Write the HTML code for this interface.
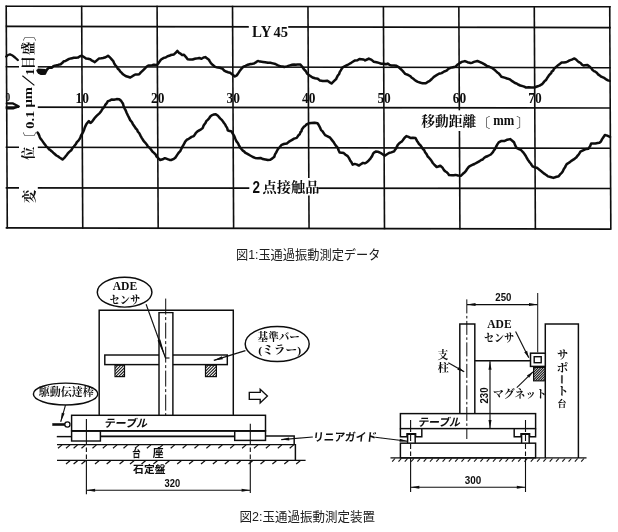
<!DOCTYPE html><html><head><meta charset="utf-8"><title>fig</title><style>html,body{margin:0;padding:0;background:#fff;}body{width:618px;height:532px;overflow:hidden;font-family:"Liberation Serif",serif;}svg{display:block;}.sb{font-family:"Liberation Serif",serif;font-weight:bold;}.nb{font-family:"Liberation Sans",sans-serif;font-weight:bold;}.kj{font-family:"Liberation Serif","Noto Serif CJK SC",serif;font-weight:bold;}.ns{font-family:"Liberation Sans","Noto Sans CJK JP",sans-serif;font-weight:bold;}.cap{font-family:"Liberation Sans","Noto Sans CJK JP",sans-serif;}</style></head><body><svg width="618" height="532" viewBox="0 0 618 532"><rect width="618" height="532" fill="#fff"/><filter id="bl" x="0" y="0" width="618" height="532" filterUnits="userSpaceOnUse"><feGaussianBlur stdDeviation="0.4"/></filter><g filter="url(#bl)"><path d="M5.40 5.60 L6.50 228.50 L8.10 228.50 L7.00 5.60 Z" fill="#0c0c0c"/><path d="M80.84 5.68 L81.94 228.65 L83.54 228.65 L82.44 5.67 Z" fill="#0c0c0c"/><path d="M156.28 5.75 L157.38 228.80 L158.98 228.80 L157.88 5.75 Z" fill="#0c0c0c"/><path d="M231.72 5.83 L232.82 228.95 L234.42 228.95 L233.32 5.82 Z" fill="#0c0c0c"/><path d="M307.16 5.90 L308.26 229.10 L309.86 229.10 L308.76 5.90 Z" fill="#0c0c0c"/><path d="M382.60 5.98 L383.70 229.25 L385.30 229.25 L384.20 5.97 Z" fill="#0c0c0c"/><path d="M458.04 6.05 L459.14 229.40 L460.74 229.40 L459.64 6.05 Z" fill="#0c0c0c"/><path d="M533.48 6.13 L534.58 229.55 L536.18 229.55 L535.08 6.12 Z" fill="#0c0c0c"/><path d="M608.92 6.20 L610.02 229.70 L611.62 229.70 L610.52 6.20 Z" fill="#0c0c0c"/><path d="M5.70 7.00 L610.80 7.60 L610.80 6.00 L5.70 5.40 Z" fill="#0c0c0c"/><path d="M5.70 27.20 L610.80 28.40 L610.80 26.80 L5.70 25.60 Z" fill="#0c0c0c"/><path d="M5.70 67.60 L610.80 68.50 L610.80 66.90 L5.70 66.00 Z" fill="#0c0c0c"/><path d="M5.70 107.90 L610.80 108.80 L610.80 107.20 L5.70 106.30 Z" fill="#0c0c0c"/><path d="M5.70 148.10 L610.80 149.10 L610.80 147.50 L5.70 146.50 Z" fill="#0c0c0c"/><path d="M5.70 188.70 L610.80 189.30 L610.80 187.70 L5.70 187.10 Z" fill="#0c0c0c"/><path d="M5.70 228.70 L610.80 229.90 L610.80 228.30 L5.70 227.10 Z" fill="#0c0c0c"/><rect x="19.00" y="30.00" width="18.80" height="182.00" fill="#fff"/><rect x="248.80" y="24.00" width="39.40" height="16.00" fill="#fff"/><rect x="249.30" y="178.00" width="69.00" height="17.50" fill="#fff"/><rect x="420.00" y="110.30" width="103.00" height="20.70" fill="#fff"/><path d="M6.2 56.6 L8.0 55.0 L10.0 54.4 L12.0 55.2 L15.0 57.5 L17.8 60.0" fill="none" stroke="#0a0a0a" stroke-width="2.3" stroke-linejoin="round" stroke-linecap="round"/><path d="M37.6 70.5 L38.9 72.7 L42.1 73.7 L45.0 73.4 L45.8 71.8 L46.8 69.9 L48.8 67.7 L52.0 67.7 L53.4 66.2 L55.0 65.6 L58.0 64.9 L60.7 64.2 L62.4 62.8 L63.9 61.2 L65.4 61.0 L66.9 60.1 L69.1 58.9 L72.0 58.2 L73.8 57.8 L76.1 57.7 L77.9 57.6 L80.0 56.3 L81.9 55.7 L83.9 57.1 L86.0 58.6 L88.1 58.7 L90.2 59.2 L91.5 60.4 L92.9 61.0 L94.8 62.1 L97.1 60.1 L99.1 58.4 L101.1 58.3 L103.0 58.0 L105.6 57.3 L108.0 55.8 L109.8 57.2 L112.1 59.9 L113.3 61.2 L114.2 63.3 L115.2 65.0 L116.6 66.5 L117.8 68.7 L119.1 69.8 L120.4 71.7 L121.5 72.7 L123.0 74.3 L125.5 76.0 L127.9 76.7 L130.3 77.5 L133.2 75.7 L135.3 74.5 L137.2 74.6 L139.2 74.3 L140.8 72.4 L143.0 70.3 L145.0 68.4 L146.7 66.5 L148.4 65.5 L150.2 65.5 L152.1 65.3 L154.0 64.7 L155.6 65.0 L157.3 64.7 L158.4 63.2 L159.4 61.7 L161.1 59.5 L163.8 57.9 L165.6 57.5 L167.6 56.2 L169.2 55.8 L170.9 55.0 L173.9 54.4 L176.0 52.5 L177.4 50.9 L178.9 52.8 L180.6 53.7 L182.1 54.9 L184.0 54.8 L186.0 57.1 L187.6 59.3 L190.2 59.4 L192.5 59.5 L194.9 58.7 L197.7 58.3 L199.5 58.0 L201.5 58.8 L203.6 57.5 L205.3 57.1 L206.9 58.2 L208.9 59.7 L209.8 61.4 L210.9 63.1 L212.9 65.1 L215.2 66.9 L217.9 67.6 L219.9 67.8 L222.6 68.7 L224.0 70.4 L225.3 71.2 L228.1 72.2 L230.1 72.8 L232.7 74.7 L234.9 76.4 L236.4 75.7 L237.7 74.1 L238.8 72.4 L239.5 71.3 L241.6 68.6 L243.4 66.7 L245.5 65.8 L247.9 64.7 L250.5 64.0 L252.1 63.9 L254.0 63.5 L256.2 62.1 L257.9 60.9 L260.0 61.6 L263.0 61.9 L265.3 62.2 L267.8 62.7 L270.3 62.8 L272.8 63.4 L275.4 64.0 L277.9 65.4 L279.4 66.0 L281.0 66.3 L282.6 66.4 L284.2 67.0 L286.8 66.4 L289.1 65.6 L292.1 64.8 L294.1 64.4 L295.9 64.7 L297.4 64.6 L300.4 64.6 L302.1 66.5 L303.8 69.1 L305.7 71.0 L306.5 72.5 L307.5 74.0 L310.0 75.8 L312.5 77.5 L315.1 78.3 L317.8 78.7 L320.0 80.6 L322.7 81.1 L324.9 81.0 L327.4 80.7 L329.3 82.1 L331.5 83.5 L332.9 82.2 L335.2 79.9 L336.2 79.0 L336.9 77.3 L337.9 75.4 L339.1 74.2 L339.7 72.1 L340.8 70.4 L341.6 69.0 L342.7 67.3 L345.0 66.2 L347.5 65.0 L350.0 63.5 L351.2 62.8 L352.8 61.8 L354.8 60.4 L357.5 60.3 L359.4 59.0 L361.5 59.2 L363.6 59.5 L365.1 60.4 L367.0 59.5 L368.8 58.6 L371.6 59.9 L373.8 61.7 L376.6 62.2 L378.8 62.9 L381.3 63.7 L384.0 63.8 L385.9 64.2 L387.7 63.6 L389.5 64.8 L391.4 65.6 L393.8 65.6 L396.5 65.8 L398.6 67.0 L400.3 68.7 L401.6 69.8 L402.9 71.1 L404.2 72.7 L405.2 73.9 L408.2 75.0 L410.5 76.3 L411.7 77.7 L413.0 78.5 L415.5 80.6 L417.9 81.9 L420.5 82.8 L422.5 83.2 L424.0 83.2 L425.8 83.2 L427.8 81.9 L429.8 80.8 L431.8 79.0 L433.9 76.8 L436.6 75.2 L438.9 73.8 L441.6 73.1 L444.2 71.5 L446.6 70.6 L448.4 68.9 L450.3 67.9 L453.0 67.2 L455.3 66.8 L457.3 64.8 L459.3 63.4 L461.8 61.9 L464.9 61.1 L467.5 62.2 L470.5 63.0 L472.3 62.7 L474.0 61.9 L477.4 61.0 L480.1 62.1 L482.4 63.2 L484.6 64.4 L486.8 65.9 L489.4 66.8 L492.1 67.9 L494.1 69.4 L496.2 71.4 L497.7 72.7 L498.9 73.6 L500.2 75.1 L501.4 76.8 L504.5 77.6 L507.1 78.5 L510.0 79.4 L512.6 81.4 L515.0 83.0 L516.6 83.5 L518.1 84.5 L520.3 85.5 L523.5 86.4 L526.1 87.5 L528.8 87.3 L531.5 87.5 L534.4 87.5 L537.1 86.5 L539.6 85.6 L542.1 84.2 L543.8 82.1 L544.7 81.0 L546.1 79.9 L547.0 78.3 L547.9 77.1 L548.9 75.4 L550.1 74.1 L551.1 73.3 L551.7 71.6 L553.1 70.7 L554.0 68.8 L555.9 67.1 L558.4 64.9 L559.8 63.9 L561.6 62.6 L563.6 62.4 L565.6 62.3 L567.4 61.6 L569.6 60.4 L571.8 59.6 L574.5 58.4 L575.9 59.4 L577.7 61.1 L579.0 62.2 L580.6 63.0 L582.0 64.7 L583.4 65.5 L585.0 65.2 L587.5 64.9 L589.4 66.4 L591.2 68.1 L592.5 69.9 L593.9 71.1 L595.3 71.7 L596.8 72.8 L598.1 74.4 L599.6 75.4 L600.9 76.5 L602.4 77.1 L604.2 77.9 L606.1 79.3 L608.0 80.4 L609.7 80.9" fill="none" stroke="#0a0a0a" stroke-width="2.5" stroke-linejoin="round" stroke-linecap="round"/><path d="M6.8 103.4 L13.0 103.4 L18.8 106.4 L13.0 108.4 L6.8 108.4" fill="none" stroke="#0a0a0a" stroke-width="2.3" stroke-linejoin="round" stroke-linecap="round"/><path d="M37.6 132.6 L38.7 134.3 L39.5 136.4 L40.4 138.5 L41.6 139.9 L42.8 141.6 L44.0 143.4 L45.1 144.7 L46.3 146.7 L47.7 147.5 L49.2 149.4 L50.2 149.9 L51.3 151.1 L52.6 152.1 L53.9 153.3 L56.4 155.5 L58.0 156.3 L59.5 157.5 L61.1 158.5 L62.5 159.5 L64.0 158.1 L65.0 157.1 L66.5 155.2 L67.6 153.7 L69.3 151.9 L71.2 150.3 L72.6 147.8 L73.8 146.6 L75.7 144.3 L77.0 141.9 L78.1 141.1 L79.3 139.4 L80.5 137.4 L81.0 135.5 L82.0 134.1 L83.2 131.9 L84.1 129.7 L84.8 127.6 L85.5 125.9 L86.4 124.1 L88.1 121.9 L88.9 121.1 L90.1 122.7 L90.7 123.0 L92.5 121.1 L94.5 118.3 L96.6 115.9 L98.0 114.6 L99.7 113.1 L101.3 110.9 L102.7 108.6 L104.2 107.2 L105.2 104.9 L106.6 103.4 L107.9 101.1 L109.6 100.6 L111.9 99.4 L114.0 99.7 L116.6 99.1 L119.2 99.2 L121.0 100.8 L122.1 102.4 L123.0 103.8 L123.6 106.2 L124.5 108.3 L125.4 109.8 L126.6 112.7 L127.9 115.5 L128.9 117.4 L130.2 120.1 L131.6 121.7 L132.9 124.2 L134.7 126.8 L135.8 128.5 L137.0 129.6 L137.9 131.7 L139.3 133.3 L140.6 135.9 L141.7 137.9 L142.9 139.7 L144.2 141.7 L145.7 143.2 L146.9 144.7 L147.9 146.6 L149.9 148.1 L151.3 150.0 L152.6 151.7 L153.7 152.6 L155.7 154.6 L156.5 156.6 L157.6 157.4 L158.6 158.6 L160.2 160.0 L162.6 159.3 L164.9 158.2 L168.2 159.4 L169.6 159.9 L171.2 160.0 L173.3 159.2 L175.3 157.8 L177.2 154.9 L178.7 152.7 L180.3 151.1 L181.4 148.7 L182.3 146.9 L183.5 144.8 L184.3 143.4 L185.2 141.6 L187.0 139.7 L188.8 138.8 L191.6 136.9 L193.8 136.1 L195.7 133.2 L197.5 131.4 L200.1 129.9 L202.8 128.0 L203.5 125.7 L204.3 124.5 L205.5 122.9 L206.3 121.2 L207.7 119.8 L209.1 118.3 L210.3 116.5 L211.6 115.4 L213.5 114.6 L215.8 114.3 L217.9 115.8 L220.1 118.4 L222.0 120.1 L224.0 123.0 L225.0 124.2 L226.1 126.4 L227.1 127.9 L227.8 130.3 L229.6 131.1 L231.3 131.2 L232.4 133.0 L233.7 135.1 L234.6 136.9 L235.4 138.9 L236.5 141.4 L238.0 143.2 L239.1 145.7 L240.2 147.6 L241.4 148.9 L242.7 150.6 L244.1 151.4 L245.1 152.6 L247.9 154.1 L250.2 155.5 L252.9 157.0 L255.1 157.9 L257.8 158.2 L260.5 157.9 L262.9 159.1 L265.4 159.5 L267.8 160.0 L270.3 159.8 L272.4 158.4 L274.3 156.8 L275.0 154.4 L276.1 152.6 L276.8 151.2 L277.9 149.1 L279.8 147.0 L281.7 144.8 L283.8 144.0 L286.8 143.4 L289.0 141.7 L291.7 140.1 L294.1 138.6 L296.7 137.9 L298.5 135.3 L299.7 134.3 L300.4 132.3 L301.4 131.4 L302.0 129.2 L303.7 126.9 L305.1 126.0 L306.4 124.5 L308.9 123.3 L311.3 122.9 L314.6 122.7 L317.5 123.2 L318.6 124.8 L319.4 126.3 L320.5 128.6 L321.1 130.1 L322.3 131.1 L323.3 132.5 L325.1 135.1 L327.6 136.3 L330.1 137.7 L332.0 140.1 L333.9 142.6 L335.6 145.3 L337.6 147.5 L338.7 150.5 L339.6 152.5 L341.8 152.7 L343.8 153.1 L345.6 154.7 L347.7 156.1 L349.0 158.1 L350.3 160.7 L351.5 162.3 L352.7 164.6 L354.7 163.9 L356.5 164.4 L357.7 164.9 L358.8 165.6 L360.8 164.3 L362.9 162.9 L364.7 163.3 L366.3 162.6 L368.5 160.7 L370.4 158.7 L371.3 157.1 L372.1 156.1 L372.9 154.1 L374.0 152.6 L375.7 151.6 L377.7 151.7 L379.7 152.5 L381.4 153.4 L383.1 154.6 L384.9 155.6 L387.0 154.3 L389.0 153.0 L391.3 152.4 L394.1 151.3 L395.1 149.7 L396.1 148.4 L396.8 146.9 L397.8 144.9 L399.1 143.5 L400.4 142.3 L401.6 141.7 L402.8 140.2 L404.6 137.7 L406.4 136.1 L408.5 136.9 L410.4 137.9 L412.8 137.8 L415.5 138.0 L417.0 140.9 L418.0 142.3 L419.0 144.0 L420.4 145.2 L421.6 147.0 L422.8 148.9 L424.1 149.9 L424.9 151.9 L426.1 153.5 L426.9 154.7 L427.7 156.5 L429.2 157.9 L430.5 159.6 L431.8 161.3 L432.8 163.0 L434.6 165.0 L436.7 167.0 L438.4 166.5 L440.3 165.7 L442.5 167.7 L444.1 170.3 L445.5 171.5 L446.8 172.3 L447.9 173.4 L449.0 175.0 L452.1 175.2 L453.5 175.2 L455.5 174.9 L458.1 175.5 L460.8 175.8 L462.9 173.8 L464.8 172.2 L466.0 170.9 L467.1 169.0 L469.0 166.6 L471.8 165.2 L474.4 164.0 L477.4 162.3 L480.0 160.8 L481.2 160.0 L482.7 159.5 L484.0 158.0 L485.4 157.0 L487.9 156.0 L490.8 154.5 L492.9 152.2 L493.8 150.6 L494.9 149.2 L495.8 147.4 L496.8 145.4 L497.7 143.9 L498.7 142.4 L501.5 140.9 L504.3 141.1 L507.3 139.7 L510.1 139.1 L512.2 140.7 L514.0 142.3 L515.0 144.9 L516.5 147.8 L519.0 149.0 L521.0 150.0 L523.2 152.3 L524.6 154.2 L525.6 155.7 L526.8 158.0 L527.8 159.7 L528.8 161.0 L529.6 162.3 L530.9 163.8 L531.8 165.2 L532.7 166.4 L534.9 167.5 L536.9 167.8 L538.5 169.0 L539.8 170.1 L540.9 170.9 L542.4 172.2 L543.7 173.4 L545.1 174.2 L546.6 175.2 L548.0 176.4 L550.4 177.0 L553.4 177.9 L555.8 177.0 L558.7 176.3 L560.6 173.8 L561.7 172.8 L562.7 171.5 L563.7 169.2 L564.9 167.6 L565.7 165.9 L566.7 164.1 L569.1 162.7 L571.0 161.1 L573.7 159.4 L575.2 158.2 L576.5 157.2 L577.3 156.0 L578.6 154.7 L579.4 153.4 L580.4 151.6 L582.5 150.6 L584.6 149.6 L586.4 148.9 L588.5 148.7 L590.1 146.2 L591.2 143.5 L593.5 143.6 L595.3 143.5 L597.6 143.0 L599.4 142.7 L600.9 141.5 L602.1 139.1 L603.4 137.2 L604.9 135.0 L607.2 135.6 L610.0 136.9" fill="none" stroke="#0a0a0a" stroke-width="2.5" stroke-linejoin="round" stroke-linecap="round"/><path d="M37.6 68.6 L45.8 69 L45.6 74.5 L41 75 L37.8 73 Z" fill="#0e0e0e"/><text class="sb" x="5.4" y="101.1" font-size="13.5" fill="#0c0c0c" textLength="4.7" lengthAdjust="spacingAndGlyphs">0</text><text class="sb" x="75.6" y="103" font-size="15" fill="#0c0c0c" textLength="13.4" lengthAdjust="spacingAndGlyphs">10</text><text class="sb" x="151.1" y="103" font-size="15" fill="#0c0c0c" textLength="13.4" lengthAdjust="spacingAndGlyphs">20</text><text class="sb" x="226.5" y="103" font-size="15" fill="#0c0c0c" textLength="13.4" lengthAdjust="spacingAndGlyphs">30</text><text class="sb" x="302" y="103" font-size="15" fill="#0c0c0c" textLength="13.4" lengthAdjust="spacingAndGlyphs">40</text><text class="sb" x="377.4" y="103" font-size="15" fill="#0c0c0c" textLength="13.4" lengthAdjust="spacingAndGlyphs">50</text><text class="sb" x="452.8" y="103" font-size="15" fill="#0c0c0c" textLength="13.4" lengthAdjust="spacingAndGlyphs">60</text><text class="sb" x="528.3" y="103" font-size="15" fill="#0c0c0c" textLength="13.4" lengthAdjust="spacingAndGlyphs">70</text><text class="sb" x="252.1" y="36.9" font-size="16" fill="#0c0c0c" textLength="19.3" lengthAdjust="spacingAndGlyphs">LY</text><text class="sb" x="273.6" y="36.8" font-size="15.6" fill="#0c0c0c" textLength="14.5" lengthAdjust="spacingAndGlyphs">45</text><text class="nb" x="252.6" y="192.8" font-size="16.6" fill="#0c0c0c" textLength="7.5" lengthAdjust="spacingAndGlyphs">2</text><text class="kj" x="262.5" y="192" font-size="14.2" fill="#0c0c0c" textLength="57" lengthAdjust="spacingAndGlyphs">点接触品</text><text class="kj" x="421.2" y="126.1" font-size="13.7" fill="#0c0c0c" textLength="55" lengthAdjust="spacing">移動距離</text><text class="kj" x="476.6" y="126.5" font-size="13.8" fill="#0c0c0c">〔</text><text class="sb" x="493.3" y="124.8" font-size="13.8" fill="#0c0c0c" textLength="21" lengthAdjust="spacingAndGlyphs">mm</text><text class="kj" x="516.25" y="126.5" font-size="13.8" fill="#0c0c0c">〕</text><text class="kj" transform="translate(34.80 202.70) rotate(-90)" x="-0.4" y="-1.2" font-size="13.2" fill="#0c0c0c">変</text><text class="kj" transform="translate(34.20 159.80) rotate(-90)" x="-0.1" y="-1.3" font-size="13.4" fill="#0c0c0c">位</text><text class="kj" transform="translate(35.00 135.90) rotate(-90)" x="-9.95" y="-1.3" font-size="13.8" fill="#0c0c0c">〔</text><text class="sb" transform="translate(34.30 128.80) rotate(-90)" x="0" y="-0.2" font-size="13.5" fill="#0c0c0c" textLength="18" lengthAdjust="spacingAndGlyphs">0.1</text><text class="sb" transform="translate(34.30 107.50) rotate(-90)" x="0" y="-2.8" font-size="13.2" fill="#0c0c0c" textLength="20.5" lengthAdjust="spacingAndGlyphs">μm</text><path d="M34.77 84.93 L22.77 75.33 L22.03 76.27 L34.03 85.87 Z" fill="#0c0c0c"/><text class="sb" transform="translate(34.30 74.60) rotate(-90)" x="-0.6" y="0" font-size="13.5" fill="#0c0c0c">1</text><text class="kj" transform="translate(34.00 67.20) rotate(-90)" x="-2" y="-1.2" font-size="13.2" fill="#0c0c0c">目</text><text class="kj" transform="translate(34.20 54.80) rotate(-90)" x="-0.3" y="-0.8" font-size="13.2" fill="#0c0c0c">盛</text><text class="kj" transform="translate(35.00 40.90) rotate(-90)" x="-0.4" y="-1.3" font-size="13.8" fill="#0c0c0c">〕</text><path d="M99.20 415.00 L99.20 310.20 L233.30 310.20 L233.30 415.00" fill="none" stroke="#0c0c0c" stroke-width="1.45" stroke-linejoin="miter"/><rect x="104.80" y="355.00" width="122.50" height="9.60" fill="#fff" stroke="#0c0c0c" stroke-width="1.45"/><rect x="159.0" y="312.6" width="13.9" height="102" fill="#fff"/><path d="M159.00 415.00 L159.00 312.60 L172.90 312.60 L172.90 415.00" fill="none" stroke="#0c0c0c" stroke-width="1.45" stroke-linejoin="miter"/><clipPath id="hb1"><rect x="115.00" y="365.20" width="9.50" height="11.40"/></clipPath><g clip-path="url(#hb1)"><path d="M103.95 376.95 L115.35 365.55 L114.65 364.85 L103.25 376.25 Z" fill="#0c0c0c"/><path d="M106.95 376.95 L118.35 365.55 L117.65 364.85 L106.25 376.25 Z" fill="#0c0c0c"/><path d="M109.95 376.95 L121.35 365.55 L120.65 364.85 L109.25 376.25 Z" fill="#0c0c0c"/><path d="M112.95 376.95 L124.35 365.55 L123.65 364.85 L112.25 376.25 Z" fill="#0c0c0c"/><path d="M115.95 376.95 L127.35 365.55 L126.65 364.85 L115.25 376.25 Z" fill="#0c0c0c"/><path d="M118.95 376.95 L130.35 365.55 L129.65 364.85 L118.25 376.25 Z" fill="#0c0c0c"/><path d="M121.95 376.95 L133.35 365.55 L132.65 364.85 L121.25 376.25 Z" fill="#0c0c0c"/><path d="M124.95 376.95 L136.35 365.55 L135.65 364.85 L124.25 376.25 Z" fill="#0c0c0c"/><path d="M127.95 376.95 L139.35 365.55 L138.65 364.85 L127.25 376.25 Z" fill="#0c0c0c"/><path d="M130.95 376.95 L142.35 365.55 L141.65 364.85 L130.25 376.25 Z" fill="#0c0c0c"/><path d="M133.95 376.95 L145.35 365.55 L144.65 364.85 L133.25 376.25 Z" fill="#0c0c0c"/></g><rect x="115.00" y="365.20" width="9.50" height="11.40" fill="none" stroke="#0c0c0c" stroke-width="1.2"/><clipPath id="hb2"><rect x="205.50" y="365.20" width="10.90" height="11.40"/></clipPath><g clip-path="url(#hb2)"><path d="M194.45 376.95 L205.85 365.55 L205.15 364.85 L193.75 376.25 Z" fill="#0c0c0c"/><path d="M197.45 376.95 L208.85 365.55 L208.15 364.85 L196.75 376.25 Z" fill="#0c0c0c"/><path d="M200.45 376.95 L211.85 365.55 L211.15 364.85 L199.75 376.25 Z" fill="#0c0c0c"/><path d="M203.45 376.95 L214.85 365.55 L214.15 364.85 L202.75 376.25 Z" fill="#0c0c0c"/><path d="M206.45 376.95 L217.85 365.55 L217.15 364.85 L205.75 376.25 Z" fill="#0c0c0c"/><path d="M209.45 376.95 L220.85 365.55 L220.15 364.85 L208.75 376.25 Z" fill="#0c0c0c"/><path d="M212.45 376.95 L223.85 365.55 L223.15 364.85 L211.75 376.25 Z" fill="#0c0c0c"/><path d="M215.45 376.95 L226.85 365.55 L226.15 364.85 L214.75 376.25 Z" fill="#0c0c0c"/><path d="M218.45 376.95 L229.85 365.55 L229.15 364.85 L217.75 376.25 Z" fill="#0c0c0c"/><path d="M221.45 376.95 L232.85 365.55 L232.15 364.85 L220.75 376.25 Z" fill="#0c0c0c"/><path d="M224.45 376.95 L235.85 365.55 L235.15 364.85 L223.75 376.25 Z" fill="#0c0c0c"/><path d="M227.45 376.95 L238.85 365.55 L238.15 364.85 L226.75 376.25 Z" fill="#0c0c0c"/></g><rect x="205.50" y="365.20" width="10.90" height="11.40" fill="none" stroke="#0c0c0c" stroke-width="1.2"/><line x1="165.70" y1="298.60" x2="165.70" y2="422.00" stroke="#0c0c0c" stroke-width="1" stroke-dasharray="16 2.5 3 2.5"/><rect x="71.60" y="415.30" width="193.90" height="15.50" fill="#fff" stroke="#0c0c0c" stroke-width="1.45"/><path d="M71.60 431.80 L265.50 431.80 L265.50 430.00 L71.60 430.00 Z" fill="#0c0c0c"/><path d="M85.85 419.00 L85.85 445.00 L86.95 445.00 L86.95 419.00 Z" fill="#0c0c0c"/><path d="M85.85 447.50 L85.85 452.00 L86.95 452.00 L86.95 447.50 Z" fill="#0c0c0c"/><path d="M85.85 454.50 L85.85 459.00 L86.95 459.00 L86.95 454.50 Z" fill="#0c0c0c"/><path d="M85.85 461.00 L85.85 494.30 L86.95 494.30 L86.95 461.00 Z" fill="#0c0c0c"/><path d="M249.75 423.80 L249.75 445.00 L250.85 445.00 L250.85 423.80 Z" fill="#0c0c0c"/><path d="M249.75 447.50 L249.75 452.00 L250.85 452.00 L250.85 447.50 Z" fill="#0c0c0c"/><path d="M249.75 454.50 L249.75 459.00 L250.85 459.00 L250.85 454.50 Z" fill="#0c0c0c"/><path d="M249.75 461.00 L249.75 493.00 L250.85 493.00 L250.85 461.00 Z" fill="#0c0c0c"/><rect x="71.60" y="430.80" width="28.80" height="10.20" fill="none" stroke="#0c0c0c" stroke-width="1.45"/><rect x="234.70" y="430.80" width="30.80" height="9.60" fill="none" stroke="#0c0c0c" stroke-width="1.45"/><path d="M56.80 437.33 L71.60 437.33 L71.60 435.88 L56.80 435.88 Z" fill="#0c0c0c"/><path d="M100.40 437.20 L234.70 437.20 L234.70 435.40 L100.40 435.40 Z" fill="#0c0c0c"/><path d="M265.50 436.00 L294.20 436.00 L294.20 444.40" fill="none" stroke="#0c0c0c" stroke-width="1.45" stroke-linejoin="miter"/><path d="M57.00 444.60 L295.40 444.60 L295.40 460.40" fill="none" stroke="#0c0c0c" stroke-width="1.45" stroke-linejoin="miter"/><path d="M61.63 444.46 L57.63 447.76 L58.37 448.64 L62.37 445.34 Z" fill="#0c0c0c"/><path d="M69.63 444.46 L65.63 447.76 L66.37 448.64 L70.37 445.34 Z" fill="#0c0c0c"/><path d="M77.23 444.46 L73.23 447.76 L73.97 448.64 L77.97 445.34 Z" fill="#0c0c0c"/><path d="M85.13 444.46 L81.13 447.76 L81.87 448.64 L85.87 445.34 Z" fill="#0c0c0c"/><path d="M96.13 444.46 L92.13 447.76 L92.87 448.64 L96.87 445.34 Z" fill="#0c0c0c"/><path d="M106.43 444.46 L102.43 447.76 L103.17 448.64 L107.17 445.34 Z" fill="#0c0c0c"/><path d="M116.63 444.46 L112.63 447.76 L113.37 448.64 L117.37 445.34 Z" fill="#0c0c0c"/><path d="M127.13 444.46 L123.13 447.76 L123.87 448.64 L127.87 445.34 Z" fill="#0c0c0c"/><path d="M138.63 444.46 L134.63 447.76 L135.37 448.64 L139.37 445.34 Z" fill="#0c0c0c"/><path d="M150.53 444.46 L146.53 447.76 L147.27 448.64 L151.27 445.34 Z" fill="#0c0c0c"/><path d="M162.43 444.46 L158.43 447.76 L159.17 448.64 L163.17 445.34 Z" fill="#0c0c0c"/><path d="M174.33 444.46 L170.33 447.76 L171.07 448.64 L175.07 445.34 Z" fill="#0c0c0c"/><path d="M186.23 444.46 L182.23 447.76 L182.97 448.64 L186.97 445.34 Z" fill="#0c0c0c"/><path d="M198.13 444.46 L194.13 447.76 L194.87 448.64 L198.87 445.34 Z" fill="#0c0c0c"/><path d="M210.03 444.46 L206.03 447.76 L206.77 448.64 L210.77 445.34 Z" fill="#0c0c0c"/><path d="M221.93 444.46 L217.93 447.76 L218.67 448.64 L222.67 445.34 Z" fill="#0c0c0c"/><path d="M233.83 444.46 L229.83 447.76 L230.57 448.64 L234.57 445.34 Z" fill="#0c0c0c"/><path d="M245.73 444.46 L241.73 447.76 L242.47 448.64 L246.47 445.34 Z" fill="#0c0c0c"/><path d="M257.63 444.46 L253.63 447.76 L254.37 448.64 L258.37 445.34 Z" fill="#0c0c0c"/><path d="M269.53 444.46 L265.53 447.76 L266.27 448.64 L270.27 445.34 Z" fill="#0c0c0c"/><path d="M281.43 444.46 L277.43 447.76 L278.17 448.64 L282.17 445.34 Z" fill="#0c0c0c"/><path d="M293.33 444.46 L289.33 447.76 L290.07 448.64 L294.07 445.34 Z" fill="#0c0c0c"/><path d="M57.00 461.12 L305.60 461.12 L305.60 459.67 L57.00 459.67 Z" fill="#0c0c0c"/><path d="M69.63 460.26 L65.63 463.56 L66.37 464.44 L70.37 461.14 Z" fill="#0c0c0c"/><path d="M77.23 460.26 L73.23 463.56 L73.97 464.44 L77.97 461.14 Z" fill="#0c0c0c"/><path d="M85.13 460.26 L81.13 463.56 L81.87 464.44 L85.87 461.14 Z" fill="#0c0c0c"/><path d="M98.63 460.26 L94.63 463.56 L95.37 464.44 L99.37 461.14 Z" fill="#0c0c0c"/><path d="M110.33 460.26 L106.33 463.56 L107.07 464.44 L111.07 461.14 Z" fill="#0c0c0c"/><path d="M123.23 460.26 L119.23 463.56 L119.97 464.44 L123.97 461.14 Z" fill="#0c0c0c"/><path d="M133.63 460.26 L129.63 463.56 L130.37 464.44 L134.37 461.14 Z" fill="#0c0c0c"/><path d="M145.13 460.26 L141.13 463.56 L141.87 464.44 L145.87 461.14 Z" fill="#0c0c0c"/><path d="M157.03 460.26 L153.03 463.56 L153.77 464.44 L157.77 461.14 Z" fill="#0c0c0c"/><path d="M168.93 460.26 L164.93 463.56 L165.67 464.44 L169.67 461.14 Z" fill="#0c0c0c"/><path d="M180.83 460.26 L176.83 463.56 L177.57 464.44 L181.57 461.14 Z" fill="#0c0c0c"/><path d="M192.73 460.26 L188.73 463.56 L189.47 464.44 L193.47 461.14 Z" fill="#0c0c0c"/><path d="M204.63 460.26 L200.63 463.56 L201.37 464.44 L205.37 461.14 Z" fill="#0c0c0c"/><path d="M216.53 460.26 L212.53 463.56 L213.27 464.44 L217.27 461.14 Z" fill="#0c0c0c"/><path d="M228.43 460.26 L224.43 463.56 L225.17 464.44 L229.17 461.14 Z" fill="#0c0c0c"/><path d="M240.33 460.26 L236.33 463.56 L237.07 464.44 L241.07 461.14 Z" fill="#0c0c0c"/><path d="M252.23 460.26 L248.23 463.56 L248.97 464.44 L252.97 461.14 Z" fill="#0c0c0c"/><path d="M264.13 460.26 L260.13 463.56 L260.87 464.44 L264.87 461.14 Z" fill="#0c0c0c"/><path d="M276.03 460.26 L272.03 463.56 L272.77 464.44 L276.77 461.14 Z" fill="#0c0c0c"/><path d="M287.93 460.26 L283.93 463.56 L284.67 464.44 L288.67 461.14 Z" fill="#0c0c0c"/><path d="M299.83 460.26 L295.83 463.56 L296.57 464.44 L300.57 461.14 Z" fill="#0c0c0c"/><path d="M52.30 425.80 L65.50 425.80 L65.50 423.20 L52.30 423.20 Z" fill="#0c0c0c"/><circle cx="67.4" cy="424.5" r="2.6" fill="#fff" stroke="#0c0c0c" stroke-width="1.3"/><ellipse cx="124.60" cy="292.20" rx="27.30" ry="14.90" fill="#fff" stroke="#0c0c0c" stroke-width="1.45"/><ellipse cx="65.60" cy="394.00" rx="32.20" ry="10.90" fill="#fff" stroke="#0c0c0c" stroke-width="1.45"/><ellipse cx="277.20" cy="344.00" rx="32.00" ry="17.50" fill="#fff" stroke="#0c0c0c" stroke-width="1.45"/><path d="M145.58 304.39 L164.88 357.99 L165.92 357.61 L146.62 304.01 Z" fill="#0c0c0c"/><path d="M165.40 357.80 L157.55 340.43 L160.37 339.42 Z" fill="#0c0c0c"/><path d="M165.00 358.55 L169.50 358.55 L169.50 357.45 L165.00 357.45 Z" fill="#0c0c0c"/><path d="M64.97 405.05 L60.17 421.65 L61.23 421.95 L66.03 405.35 Z" fill="#0c0c0c"/><path d="M60.70 421.80 L61.76 412.74 L64.64 413.57 Z" fill="#0c0c0c"/><path d="M245.24 350.07 L213.64 359.87 L213.96 360.93 L245.56 351.13 Z" fill="#0c0c0c"/><path d="M213.80 360.40 L221.92 356.21 L222.87 359.26 Z" fill="#0c0c0c"/><path d="M249.30 392.40 L260.20 392.40 L260.20 389.30 L267.40 395.90 L260.20 403.00 L260.20 399.40 L249.30 399.40 Z" fill="none" stroke="#0c0c0c" stroke-width="1.35" stroke-linejoin="miter"/><path d="M168.00 489.65 L86.60 489.65 L86.60 490.75 L168.00 490.75 Z" fill="#0c0c0c"/><path d="M86.60 490.20 L95.10 488.70 L95.10 491.70 Z" fill="#0c0c0c"/><path d="M168.00 490.75 L250.10 490.75 L250.10 489.65 L168.00 489.65 Z" fill="#0c0c0c"/><path d="M250.10 490.20 L241.60 491.70 L241.60 488.70 Z" fill="#0c0c0c"/><text class="nb" x="164.5" y="486.6" font-size="11.3" fill="#0c0c0c" textLength="15.6" lengthAdjust="spacingAndGlyphs">320</text><text class="sb" x="112.7" y="290.4" font-size="13.4" fill="#0c0c0c" textLength="24.5" lengthAdjust="spacingAndGlyphs">ADE</text><text class="kj" x="109.6" y="303.55" font-size="11" fill="#0c0c0c" textLength="30.5" lengthAdjust="spacingAndGlyphs">センサ</text><text class="kj" x="38.8" y="395.95" font-size="11" fill="#0c0c0c" textLength="55" lengthAdjust="spacingAndGlyphs">駆動伝達棒</text><text class="kj" x="257.6" y="340.8" font-size="11" fill="#0c0c0c" textLength="42.3" lengthAdjust="spacingAndGlyphs">基準バー</text><text class="kj" x="258.2" y="353.7" font-size="11" fill="#0c0c0c" textLength="43" lengthAdjust="spacingAndGlyphs">(ミラー)</text><text class="ns" transform="translate(103.80 427.40) skewX(-14)" x="-0.4" y="-0.7" font-size="10.8" fill="#0c0c0c" textLength="43.4" lengthAdjust="spacingAndGlyphs">テーブル</text><text class="ns" x="132.3" y="456.7" font-size="10.2" fill="#0c0c0c" textLength="8.4" lengthAdjust="spacingAndGlyphs">台</text><text class="ns" x="152.8" y="457.2" font-size="10.8" fill="#0c0c0c">座</text><text class="ns" x="133.1" y="472.6" font-size="10.4" fill="#0c0c0c" textLength="32.4" lengthAdjust="spacingAndGlyphs">石定盤</text><path d="M459.80 413.60 L459.80 323.90 L474.80 323.90 L474.80 413.60" fill="none" stroke="#0c0c0c" stroke-width="1.45" stroke-linejoin="miter"/><line x1="466.80" y1="299.40" x2="466.80" y2="439.00" stroke="#0c0c0c" stroke-width="1" stroke-dasharray="14 2.5 2.5 2.5"/><rect x="400.40" y="413.60" width="135.20" height="15.00" fill="none" stroke="#0c0c0c" stroke-width="1.45"/><path d="M400.40 428.60 L400.40 436.80 L407.00 436.80 L407.00 433.60 L415.60 433.60 L415.60 436.80 L421.80 436.80 L421.80 428.60" fill="none" stroke="#0c0c0c" stroke-width="1.45" stroke-linejoin="miter"/><path d="M535.60 428.60 L535.60 436.80 L529.60 436.80 L529.60 433.60 L521.00 433.60 L521.00 436.80 L514.20 436.80 L514.20 428.60" fill="none" stroke="#0c0c0c" stroke-width="1.45" stroke-linejoin="miter"/><path d="M407.60 443.20 L407.60 434.20 L415.20 434.20 L415.20 443.20" fill="none" stroke="#0c0c0c" stroke-width="1.45" stroke-linejoin="miter"/><path d="M521.60 443.20 L521.60 434.20 L529.20 434.20 L529.20 443.20" fill="none" stroke="#0c0c0c" stroke-width="1.45" stroke-linejoin="miter"/><rect x="400.40" y="443.20" width="135.20" height="14.70" fill="none" stroke="#0c0c0c" stroke-width="1.45"/><path d="M390.50 458.62 L586.50 458.62 L586.50 457.17 L390.50 457.17 Z" fill="#0c0c0c"/><path d="M394.59 458.14 L391.79 461.34 L392.61 462.06 L395.41 458.86 Z" fill="#0c0c0c"/><path d="M400.89 458.14 L398.09 461.34 L398.91 462.06 L401.71 458.86 Z" fill="#0c0c0c"/><path d="M407.19 458.14 L404.39 461.34 L405.21 462.06 L408.01 458.86 Z" fill="#0c0c0c"/><path d="M413.49 458.14 L410.69 461.34 L411.51 462.06 L414.31 458.86 Z" fill="#0c0c0c"/><path d="M419.79 458.14 L416.99 461.34 L417.81 462.06 L420.61 458.86 Z" fill="#0c0c0c"/><path d="M426.09 458.14 L423.29 461.34 L424.11 462.06 L426.91 458.86 Z" fill="#0c0c0c"/><path d="M432.39 458.14 L429.59 461.34 L430.41 462.06 L433.21 458.86 Z" fill="#0c0c0c"/><path d="M438.69 458.14 L435.89 461.34 L436.71 462.06 L439.51 458.86 Z" fill="#0c0c0c"/><path d="M444.99 458.14 L442.19 461.34 L443.01 462.06 L445.81 458.86 Z" fill="#0c0c0c"/><path d="M451.29 458.14 L448.49 461.34 L449.31 462.06 L452.11 458.86 Z" fill="#0c0c0c"/><path d="M457.59 458.14 L454.79 461.34 L455.61 462.06 L458.41 458.86 Z" fill="#0c0c0c"/><path d="M463.89 458.14 L461.09 461.34 L461.91 462.06 L464.71 458.86 Z" fill="#0c0c0c"/><path d="M470.19 458.14 L467.39 461.34 L468.21 462.06 L471.01 458.86 Z" fill="#0c0c0c"/><path d="M476.49 458.14 L473.69 461.34 L474.51 462.06 L477.31 458.86 Z" fill="#0c0c0c"/><path d="M482.79 458.14 L479.99 461.34 L480.81 462.06 L483.61 458.86 Z" fill="#0c0c0c"/><path d="M489.09 458.14 L486.29 461.34 L487.11 462.06 L489.91 458.86 Z" fill="#0c0c0c"/><path d="M495.39 458.14 L492.59 461.34 L493.41 462.06 L496.21 458.86 Z" fill="#0c0c0c"/><path d="M501.69 458.14 L498.89 461.34 L499.71 462.06 L502.51 458.86 Z" fill="#0c0c0c"/><path d="M507.99 458.14 L505.19 461.34 L506.01 462.06 L508.81 458.86 Z" fill="#0c0c0c"/><path d="M514.29 458.14 L511.49 461.34 L512.31 462.06 L515.11 458.86 Z" fill="#0c0c0c"/><path d="M520.59 458.14 L517.79 461.34 L518.61 462.06 L521.41 458.86 Z" fill="#0c0c0c"/><path d="M526.89 458.14 L524.09 461.34 L524.91 462.06 L527.71 458.86 Z" fill="#0c0c0c"/><path d="M533.19 458.14 L530.39 461.34 L531.21 462.06 L534.01 458.86 Z" fill="#0c0c0c"/><path d="M539.49 458.14 L536.69 461.34 L537.51 462.06 L540.31 458.86 Z" fill="#0c0c0c"/><path d="M545.79 458.14 L542.99 461.34 L543.81 462.06 L546.61 458.86 Z" fill="#0c0c0c"/><path d="M552.09 458.14 L549.29 461.34 L550.11 462.06 L552.91 458.86 Z" fill="#0c0c0c"/><path d="M558.39 458.14 L555.59 461.34 L556.41 462.06 L559.21 458.86 Z" fill="#0c0c0c"/><path d="M564.69 458.14 L561.89 461.34 L562.71 462.06 L565.51 458.86 Z" fill="#0c0c0c"/><path d="M570.99 458.14 L568.19 461.34 L569.01 462.06 L571.81 458.86 Z" fill="#0c0c0c"/><path d="M577.29 458.14 L574.49 461.34 L575.31 462.06 L578.11 458.86 Z" fill="#0c0c0c"/><path d="M583.59 458.14 L580.79 461.34 L581.61 462.06 L584.41 458.86 Z" fill="#0c0c0c"/><path d="M545.30 457.90 L545.30 323.90 L578.40 323.90 L578.40 457.90" fill="none" stroke="#0c0c0c" stroke-width="1.45" stroke-linejoin="miter"/><rect x="530.50" y="353.20" width="14.80" height="13.20" fill="#fff" stroke="#0c0c0c" stroke-width="1.5"/><rect x="534.20" y="356.70" width="7.00" height="6.00" fill="none" stroke="#0c0c0c" stroke-width="1.4"/><clipPath id="hb3"><rect x="533.60" y="367.40" width="11.70" height="13.40"/></clipPath><g clip-path="url(#hb3)"><path d="M520.61 381.21 L534.01 367.81 L533.19 366.99 L519.79 380.39 Z" fill="#0c0c0c"/><path d="M523.11 381.21 L536.51 367.81 L535.69 366.99 L522.29 380.39 Z" fill="#0c0c0c"/><path d="M525.61 381.21 L539.01 367.81 L538.19 366.99 L524.79 380.39 Z" fill="#0c0c0c"/><path d="M528.11 381.21 L541.51 367.81 L540.69 366.99 L527.29 380.39 Z" fill="#0c0c0c"/><path d="M530.61 381.21 L544.01 367.81 L543.19 366.99 L529.79 380.39 Z" fill="#0c0c0c"/><path d="M533.11 381.21 L546.51 367.81 L545.69 366.99 L532.29 380.39 Z" fill="#0c0c0c"/><path d="M535.61 381.21 L549.01 367.81 L548.19 366.99 L534.79 380.39 Z" fill="#0c0c0c"/><path d="M538.11 381.21 L551.51 367.81 L550.69 366.99 L537.29 380.39 Z" fill="#0c0c0c"/><path d="M540.61 381.21 L554.01 367.81 L553.19 366.99 L539.79 380.39 Z" fill="#0c0c0c"/><path d="M543.11 381.21 L556.51 367.81 L555.69 366.99 L542.29 380.39 Z" fill="#0c0c0c"/><path d="M545.61 381.21 L559.01 367.81 L558.19 366.99 L544.79 380.39 Z" fill="#0c0c0c"/><path d="M548.11 381.21 L561.51 367.81 L560.69 366.99 L547.29 380.39 Z" fill="#0c0c0c"/><path d="M550.61 381.21 L564.01 367.81 L563.19 366.99 L549.79 380.39 Z" fill="#0c0c0c"/><path d="M553.11 381.21 L566.51 367.81 L565.69 366.99 L552.29 380.39 Z" fill="#0c0c0c"/><path d="M555.61 381.21 L569.01 367.81 L568.19 366.99 L554.79 380.39 Z" fill="#0c0c0c"/><path d="M558.11 381.21 L571.51 367.81 L570.69 366.99 L557.29 380.39 Z" fill="#0c0c0c"/></g><rect x="533.60" y="367.40" width="11.70" height="13.40" fill="none" stroke="#0c0c0c" stroke-width="1.2"/><path d="M474.80 361.53 L530.50 361.53 L530.50 360.07 L474.80 360.07 Z" fill="#0c0c0c"/><path d="M537.20 293.00 L537.20 352.50 L538.20 352.50 L538.20 293.00 Z" fill="#0c0c0c"/><path d="M502.00 304.05 L467.00 304.05 L467.00 305.15 L502.00 305.15 Z" fill="#0c0c0c"/><path d="M467.00 304.60 L475.50 303.10 L475.50 306.10 Z" fill="#0c0c0c"/><path d="M502.00 305.15 L537.50 305.15 L537.50 304.05 L502.00 304.05 Z" fill="#0c0c0c"/><path d="M537.50 304.60 L529.00 306.10 L529.00 303.10 Z" fill="#0c0c0c"/><text class="nb" x="495.3" y="300.8" font-size="11.5" fill="#0c0c0c" textLength="16.1" lengthAdjust="spacingAndGlyphs">250</text><path d="M490.55 395.00 L490.55 361.20 L489.45 361.20 L489.45 395.00 Z" fill="#0c0c0c"/><path d="M490.00 361.20 L491.50 369.70 L488.50 369.70 Z" fill="#0c0c0c"/><path d="M489.45 395.00 L489.45 428.40 L490.55 428.40 L490.55 395.00 Z" fill="#0c0c0c"/><path d="M490.00 428.40 L488.50 419.90 L491.50 419.90 Z" fill="#0c0c0c"/><text class="nb" transform="translate(488.00 403.40) rotate(-90)" x="-0.1" y="-0.1" font-size="11.3" fill="#0c0c0c" textLength="16" lengthAdjust="spacingAndGlyphs">230</text><path d="M410.05 420.00 L410.05 432.00 L411.15 432.00 L411.15 420.00 Z" fill="#0c0c0c"/><path d="M410.05 435.00 L410.05 441.00 L411.15 441.00 L411.15 435.00 Z" fill="#0c0c0c"/><path d="M410.05 444.00 L410.05 449.00 L411.15 449.00 L411.15 444.00 Z" fill="#0c0c0c"/><path d="M410.05 451.50 L410.05 456.00 L411.15 456.00 L411.15 451.50 Z" fill="#0c0c0c"/><path d="M410.05 458.00 L410.05 492.00 L411.15 492.00 L411.15 458.00 Z" fill="#0c0c0c"/><path d="M524.95 420.00 L524.95 432.00 L526.05 432.00 L526.05 420.00 Z" fill="#0c0c0c"/><path d="M524.95 435.00 L524.95 441.00 L526.05 441.00 L526.05 435.00 Z" fill="#0c0c0c"/><path d="M524.95 444.00 L524.95 449.00 L526.05 449.00 L526.05 444.00 Z" fill="#0c0c0c"/><path d="M524.95 451.50 L524.95 456.00 L526.05 456.00 L526.05 451.50 Z" fill="#0c0c0c"/><path d="M524.95 458.00 L524.95 492.00 L526.05 492.00 L526.05 458.00 Z" fill="#0c0c0c"/><path d="M468.00 486.75 L410.80 486.75 L410.80 487.85 L468.00 487.85 Z" fill="#0c0c0c"/><path d="M410.80 487.30 L419.30 485.80 L419.30 488.80 Z" fill="#0c0c0c"/><path d="M468.00 487.85 L525.30 487.85 L525.30 486.75 L468.00 486.75 Z" fill="#0c0c0c"/><path d="M525.30 487.30 L516.80 488.80 L516.80 485.80 Z" fill="#0c0c0c"/><text class="nb" x="464.8" y="484" font-size="11.8" fill="#0c0c0c" textLength="16.5" lengthAdjust="spacingAndGlyphs">300</text><path d="M515.11 331.65 L528.31 358.05 L529.29 357.55 L516.09 331.15 Z" fill="#0c0c0c"/><path d="M528.80 357.80 L524.24 352.25 L527.10 350.82 Z" fill="#0c0c0c"/><path d="M517.18 387.99 L533.38 372.19 L532.62 371.41 L516.42 387.21 Z" fill="#0c0c0c"/><path d="M533.00 371.80 L529.11 377.83 L526.87 375.54 Z" fill="#0c0c0c"/><path d="M448.03 363.28 L463.93 372.28 L464.47 371.32 L448.57 362.32 Z" fill="#0c0c0c"/><path d="M464.20 371.80 L457.32 369.74 L458.90 366.96 Z" fill="#0c0c0c"/><path d="M375.13 437.75 L407.53 441.75 L407.67 440.65 L375.27 436.65 Z" fill="#0c0c0c"/><path d="M407.60 441.20 L399.48 441.71 L399.84 438.73 Z" fill="#0c0c0c"/><path d="M312.75 436.45 L281.15 439.05 L281.25 440.15 L312.85 437.55 Z" fill="#0c0c0c"/><path d="M281.20 439.60 L289.05 437.45 L289.30 440.44 Z" fill="#0c0c0c"/><text class="sb" x="487.3" y="327.7" font-size="13.4" fill="#0c0c0c" textLength="24.3" lengthAdjust="spacingAndGlyphs">ADE</text><text class="kj" x="483.9" y="342.05" font-size="11.2" fill="#0c0c0c" textLength="30" lengthAdjust="spacingAndGlyphs">センサ</text><text class="kj" x="492.9" y="398.3" font-size="11.4" fill="#0c0c0c" textLength="54" lengthAdjust="spacingAndGlyphs">マグネット</text><text class="ns" transform="translate(417.40 426.50) skewX(-14)" x="-0.4" y="-0.7" font-size="10.8" fill="#0c0c0c" textLength="42.8" lengthAdjust="spacingAndGlyphs">テーブル</text><text class="ns" transform="translate(313.60 441.80) skewX(-6)" x="-0.8" y="-0.65" font-size="11.2" fill="#0c0c0c" textLength="63.5" lengthAdjust="spacingAndGlyphs">リニアガイド</text><text class="kj" x="437.6" y="359.4" font-size="10.8" fill="#0c0c0c">支</text><text class="kj" x="437.7" y="372.2" font-size="11" fill="#0c0c0c">柱</text><text class="kj" x="557" y="359.25" font-size="11" fill="#0c0c0c">サ</text><text class="kj" x="556.4" y="372" font-size="11.8" fill="#0c0c0c">ポ</text><path d="M561.30 375.40 q0.7 -0.5 1.3 0.2 l-0.1 7.60 q-0.6 0.6 -1.2 -0.1 Z" fill="#0c0c0c" stroke="#0c0c0c" stroke-width="0.25"/><text class="kj" x="556.9" y="394.6" font-size="11.6" fill="#0c0c0c">ト</text><text class="kj" x="557.6" y="406.6" font-size="8.9" fill="#0c0c0c">台</text></g><text class="cap" x="236" y="258.8" font-size="13" fill="#202020" textLength="144.5" lengthAdjust="spacingAndGlyphs">図1:玉通過振動測定データ</text><text class="cap" x="239.6" y="521.2" font-size="13" fill="#202020" textLength="135.5" lengthAdjust="spacingAndGlyphs">図2:玉通過振動測定装置</text></svg></body></html>
